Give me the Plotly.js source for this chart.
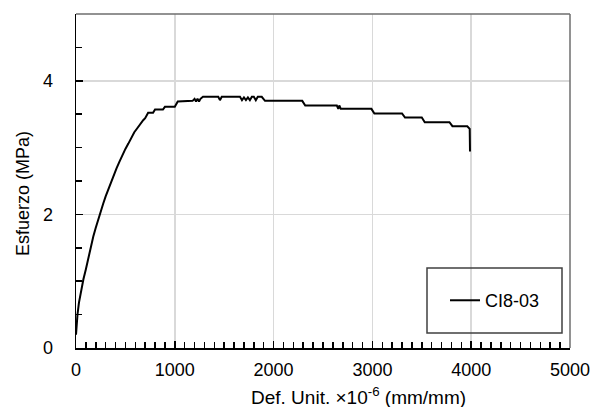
<!DOCTYPE html>
<html>
<head>
<meta charset="utf-8">
<script src="https://cdn.plot.ly/plotly-3.0.1.min.js"></script>
<style>html,body{margin:0;padding:0;background:#fff;}#chart{width:597px;height:407px;}</style>
</head>
<body>
<div id="chart"></div>
<script>
const seriesName = "CI8-03";
const strain = [0, 5, 15, 30, 50, 75, 100, 125, 150, 175, 200, 225, 250, 275, 300, 325, 350, 380, 410, 440, 470, 500, 530, 560, 590, 620, 650, 680, 700, 730, 780, 800, 880, 900, 1000, 1030, 1180, 1200, 1215, 1230, 1245, 1260, 1285, 1440, 1457, 1475, 1660, 1680, 1700, 1720, 1740, 1760, 1780, 1800, 1820, 1840, 1880, 1913, 2290, 2320, 2640, 2655, 2665, 2680, 2990, 3020, 3300, 3330, 3500, 3530, 3780, 3810, 3960, 3985, 3988];
const stress = [0.2, 0.33, 0.5, 0.68, 0.86, 1.03, 1.18, 1.35, 1.52, 1.67, 1.8, 1.93, 2.04, 2.16, 2.27, 2.37, 2.47, 2.59, 2.69, 2.79, 2.89, 2.98, 3.06, 3.15, 3.23, 3.29, 3.36, 3.41, 3.44, 3.52, 3.52, 3.57, 3.57, 3.61, 3.61, 3.69, 3.70, 3.73, 3.69, 3.73, 3.69, 3.73, 3.76, 3.76, 3.71, 3.76, 3.76, 3.71, 3.75, 3.71, 3.75, 3.71, 3.76, 3.76, 3.71, 3.76, 3.76, 3.70, 3.70, 3.63, 3.63, 3.58, 3.63, 3.58, 3.58, 3.51, 3.51, 3.45, 3.45, 3.38, 3.38, 3.32, 3.32, 3.28, 2.94];
const xRange = [0, 5000];
const yRange = [0, 5];
const xTitle = "Def. Unit. ×10<sup>-6</sup> (mm/mm)";
const yTitle = "Esfuerzo (MPa)";

const font = "Liberation Sans, Arial, sans-serif";
const data = [{
  x: strain, y: stress, type: "scatter", mode: "lines", name: seriesName,
  line: {color: "#000000", width: 2}
}];
const layout = {
  width: 597, height: 407,
  margin: {l: 76, r: 27, t: 14, b: 59},
  paper_bgcolor: "#ffffff", plot_bgcolor: "#ffffff",
  font: {family: font, size: 18, color: "#000000"},
  showlegend: true,
  legend: {x: 0.747, xanchor: "left", y: 0.142, yanchor: "middle", bgcolor: "rgba(0,0,0,0)", borderwidth: 0, font: {family: font, size: 18, color: "#000"}},
  xaxis: {
    range: xRange, tickmode: "linear", tick0: 0, dtick: 1000,
    showgrid: true, gridcolor: "#d9d9d9", gridwidth: 1.5,
    showline: true, linecolor: "#000000", linewidth: 1.5,
    ticks: "inside", ticklen: 7, tickcolor: "#000000", tickwidth: 1.5,
    minor: {ticks: "inside", dtick: 100, ticklen: 6, tickcolor: "#000000", tickwidth: 1.5, showgrid: false},
    zeroline: false, ticklabelstandoff: 5,
    tickfont: {family: font, size: 18, color: "#000"}
  },
  yaxis: {
    range: yRange, tickmode: "linear", tick0: 0, dtick: 2,
    showgrid: true, gridcolor: "#d9d9d9", gridwidth: 1.5,
    showline: true, linecolor: "#000000", linewidth: 1.5,
    ticks: "inside", ticklen: 7, tickcolor: "#000000", tickwidth: 1.5,
    minor: {ticks: "inside", dtick: 0.5, ticklen: 6, tickcolor: "#000000", tickwidth: 1.5, showgrid: false},
    zeroline: false, ticklabelstandoff: 18,
    tickfont: {family: font, size: 18, color: "#000"}
  },
  shapes: [
    {type: "line", xref: "paper", yref: "paper", x0: 0, x1: 1, y0: 1, y1: 1, line: {color: "#6e6e6e", width: 1.5}},
    {type: "line", xref: "paper", yref: "paper", x0: 1, x1: 1, y0: 0, y1: 1, line: {color: "#6e6e6e", width: 1.5}},
    {type: "rect", xref: "paper", yref: "paper", x0: (427-76)/494, x1: (562-76)/494, y0: (348-333)/334, y1: (348-268)/334, line: {color: "#404040", width: 1.5}, fillcolor: "rgba(0,0,0,0)"}
  ],
  annotations: [
    {text: yTitle, xref: "paper", yref: "paper", x: (23-76)/494, y: (348-194)/334, xanchor: "center", yanchor: "middle", textangle: -90, showarrow: false, font: {family: font, size: 18, color: "#000"}},
    {text: xTitle, xref: "paper", yref: "paper", x: (358-76)/494, y: (348-396)/334, xanchor: "center", yanchor: "middle", showarrow: false, font: {family: font, size: 19, color: "#000"}}
  ]
};
Plotly.newPlot("chart", data, layout, {displayModeBar: false, staticPlot: true});
</script>
</body>
</html>
